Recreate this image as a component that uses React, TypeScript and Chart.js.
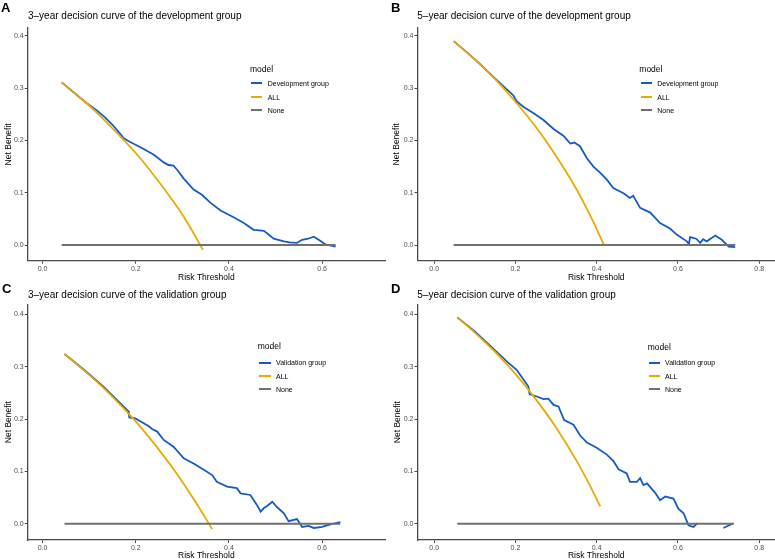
import React, { useEffect, useRef } from "react";
import { Chart, registerables } from "chart.js";

Chart.register(...registerables);

// ---------- data ----------
const xTicksShort = [0, 0.2, 0.4, 0.6];
const xTicksLong = [0, 0.2, 0.4, 0.6, 0.8];
const yTicks = [0, 0.1, 0.2, 0.3, 0.4];

// Panel A: 3-year, development group
const thrA_model = [0.041, 0.06, 0.08, 0.095, 0.117, 0.135, 0.152, 0.167, 0.174, 0.188, 0.21, 0.238, 0.26, 0.27, 0.281, 0.292, 0.303, 0.324, 0.342, 0.36, 0.382, 0.41, 0.432, 0.453, 0.465, 0.475, 0.485, 0.496, 0.518, 0.53, 0.546, 0.557, 0.57, 0.582, 0.596, 0.607, 0.629];
const nbA_model = [0.311, 0.297, 0.282, 0.271, 0.257, 0.243, 0.228, 0.212, 0.204, 0.197, 0.187, 0.173, 0.158, 0.153, 0.152, 0.140, 0.127, 0.106, 0.096, 0.081, 0.066, 0.053, 0.042, 0.029, 0.028, 0.027, 0.020, 0.012, 0.007, 0.005, 0.004, 0.010, 0.012, 0.016, 0.008, 0.001, -0.003];
const thrA_all = [0.041, 0.08, 0.12, 0.16, 0.2, 0.24, 0.28, 0.31, 0.344];
const nbA_all = [0.311, 0.282, 0.25, 0.214, 0.176, 0.132, 0.084, 0.044, -0.009];
const thrA_none = [0.041, 0.629];
const nbA_none = [0, 0];

// Panel B: 5-year, development group
const thrB_model = [0.048, 0.08, 0.11, 0.14, 0.17, 0.187, 0.195, 0.203, 0.22, 0.245, 0.269, 0.294, 0.318, 0.335, 0.345, 0.359, 0.376, 0.392, 0.409, 0.425, 0.441, 0.466, 0.482, 0.49, 0.507, 0.532, 0.556, 0.575, 0.581, 0.597, 0.622, 0.627, 0.63, 0.645, 0.655, 0.662, 0.671, 0.692, 0.708, 0.725, 0.741];
const nbB_model = [0.39, 0.369, 0.348, 0.326, 0.304, 0.292, 0.286, 0.275, 0.264, 0.252, 0.239, 0.222, 0.209, 0.194, 0.196, 0.189, 0.166, 0.15, 0.138, 0.125, 0.109, 0.099, 0.09, 0.094, 0.071, 0.062, 0.042, 0.034, 0.031, 0.02, 0.007, 0.002, 0.015, 0.012, 0.004, 0.011, 0.007, 0.018, 0.01, -0.003, -0.004];
const thrB_all = [0.048, 0.1, 0.15, 0.2, 0.25, 0.3, 0.35, 0.39, 0.418];
const nbB_all = [0.39, 0.355, 0.317, 0.274, 0.226, 0.17, 0.107, 0.047, 0.0];
const thrB_none = [0.048, 0.741];
const nbB_none = [0, 0];

// Panel C: 3-year, validation group
const thrC_model = [0.047, 0.09, 0.13, 0.16, 0.185, 0.186, 0.199, 0.217, 0.228, 0.235, 0.246, 0.26, 0.281, 0.303, 0.324, 0.346, 0.364, 0.374, 0.396, 0.417, 0.425, 0.446, 0.46, 0.468, 0.475, 0.482, 0.493, 0.503, 0.518, 0.528, 0.546, 0.55, 0.557, 0.571, 0.582, 0.6, 0.618, 0.639];
const nbC_model = [0.324, 0.293, 0.262, 0.236, 0.214, 0.203, 0.201, 0.192, 0.186, 0.181, 0.176, 0.16, 0.147, 0.125, 0.115, 0.103, 0.093, 0.08, 0.071, 0.068, 0.058, 0.055, 0.036, 0.023, 0.03, 0.034, 0.042, 0.032, 0.02, 0.005, 0.009, 0.004, -0.006, -0.004, -0.008, -0.006, -0.001, 0.003];
const thrC_all = [0.047, 0.09, 0.13, 0.17, 0.21, 0.25, 0.29, 0.33, 0.364];
const nbC_all = [0.324, 0.292, 0.26, 0.224, 0.185, 0.141, 0.093, 0.039, -0.01];
const thrC_none = [0.047, 0.639];
const nbC_none = [0, 0];

// Panel D: 5-year, validation group (gap between 0.648 and 0.712)
const thrD_model = [0.057, 0.1, 0.15, 0.18, 0.203, 0.212, 0.232, 0.235, 0.253, 0.269, 0.281, 0.294, 0.306, 0.32, 0.343, 0.359, 0.376, 0.4, 0.425, 0.441, 0.454, 0.474, 0.482, 0.499, 0.507, 0.515, 0.524, 0.544, 0.556, 0.569, 0.589, 0.601, 0.614, 0.626, 0.638, 0.648, 0.68, 0.712, 0.737];
const nbD_model = [0.394, 0.367, 0.331, 0.309, 0.294, 0.284, 0.262, 0.247, 0.243, 0.238, 0.239, 0.227, 0.224, 0.198, 0.189, 0.169, 0.155, 0.145, 0.132, 0.12, 0.104, 0.096, 0.08, 0.08, 0.087, 0.074, 0.077, 0.059, 0.045, 0.052, 0.048, 0.029, 0.02, -0.003, -0.006, 0.001, null, -0.008, 0.001];
const thrD_all = [0.057, 0.1, 0.15, 0.2, 0.25, 0.3, 0.35, 0.38, 0.409];
const nbD_all = [0.394, 0.365, 0.328, 0.286, 0.238, 0.184, 0.121, 0.078, 0.033];
const thrD_none = [0.057, 0.737];
const nbD_none = [0, 0];

// ---------- styles ----------
const FONT = '"Liberation Sans", Arial, Helvetica, sans-serif';
const BLUE = "#145CC3";
const ORANGE = "#EAAA00";
const GREY = "#707070";
const AXIS = "#4a4a4a";
const LINE_W = 1.8;

type PanelSpec = {
  letter: string;
  title: string;
  modelName: string;
  model: [number[], (number | null)[]];
  all: [number[], number[]];
  none: [number[], number[]];
  xTicks: number[];
  xMin: number; xMax: number; yMin: number; yMax: number;
  left: number; top: number; w: number; h: number;
  padTop: number; padRight: number; yAxisW: number; xAxisH: number;
  xTitlePad: number; yTitlePad: number;
  letterPos: [number, number];
  titlePos: [number, number];
  legendPos: { titleX: number; titleY: number; swX: number; swW: number; textX: number; rows: number[] };
};

const panels: PanelSpec[] = [
  {
    letter: "A", title: "3\u2013year decision curve of the development group", modelName: "Development group",
    model: [thrA_model, nbA_model], all: [thrA_all, nbA_all], none: [thrA_none, nbA_none], xTicks: xTicksShort,
    xMin: -0.032, xMax: 0.735, yMin: -0.03, yMax: 0.415,
    left: 0, top: 0, w: 387, h: 285, padTop: 28, padRight: 2, yAxisW: 27.7, xAxisH: 24.3, xTitlePad: 3.2, yTitlePad: 4.05,
    letterPos: [1, 8], titlePos: [28, 15.5],
    legendPos: { titleX: 250, titleY: 69, swX: 250.7, swW: 11.5, textX: 267.7, rows: [83.3, 97, 110.3] },
  },
  {
    letter: "B", title: "5\u2013year decision curve of the development group", modelName: "Development group",
    model: [thrB_model, nbB_model], all: [thrB_all, nbB_all], none: [thrB_none, nbB_none], xTicks: xTicksLong,
    xMin: -0.041, xMax: 0.839, yMin: -0.03, yMax: 0.415,
    left: 387, top: 0, w: 388, h: 285, padTop: 28, padRight: 0, yAxisW: 30.5, xAxisH: 24.3, xTitlePad: 3.2, yTitlePad: 5.45,
    letterPos: [391, 7.5], titlePos: [417.3, 15.5],
    legendPos: { titleX: 639.3, titleY: 69, swX: 640.7, swW: 11, textX: 657.3, rows: [83.3, 97, 110.3] },
  },
  {
    letter: "C", title: "3\u2013year decision curve of the validation group", modelName: "Validation group",
    model: [thrC_model, nbC_model], all: [thrC_all, nbC_all], none: [thrC_none, nbC_none], xTicks: xTicksShort,
    xMin: -0.032, xMax: 0.735, yMin: -0.031, yMax: 0.419,
    left: 0, top: 279, w: 387, h: 280, padTop: 25.3, padRight: 2, yAxisW: 27.7, xAxisH: 19, xTitlePad: -1.2, yTitlePad: 4.05,
    letterPos: [2, 289], titlePos: [28, 295],
    legendPos: { titleX: 257.7, titleY: 346.7, swX: 259.3, swW: 11.4, textX: 276, rows: [362.7, 376.3, 389.3] },
  },
  {
    letter: "D", title: "5\u2013year decision curve of the validation group", modelName: "Validation group",
    model: [thrD_model, nbD_model], all: [thrD_all, nbD_all], none: [thrD_none, nbD_none], xTicks: xTicksLong,
    xMin: -0.041, xMax: 0.839, yMin: -0.031, yMax: 0.419,
    left: 387, top: 279, w: 388, h: 280, padTop: 25.3, padRight: 0, yAxisW: 30.5, xAxisH: 19, xTitlePad: -1.2, yTitlePad: 6.45,
    letterPos: [391, 289], titlePos: [417.3, 294.5],
    legendPos: { titleX: 647.7, titleY: 347, swX: 649.3, swW: 10.5, textX: 665, rows: [362.7, 376, 389] },
  },
];

function toPoints(xs: number[], ys: (number | null)[]) {
  return xs.map((x, i) => ({ x, y: ys[i] }));
}

function Panel({ spec }: { spec: PanelSpec }) {
  const ref = useRef<HTMLCanvasElement>(null);
  useEffect(() => {
    if (!ref.current) return;
    const axisCommon = {
      grid: { drawOnChartArea: false, drawTicks: true, tickLength: 3, tickColor: AXIS, tickWidth: 1 },
      border: { display: true, color: AXIS, width: 1.3 },
    };
    const chart = new Chart(ref.current, {
      type: "line",
      data: {
        datasets: [
          {
            label: spec.modelName, data: toPoints(spec.model[0], spec.model[1]) as any,
            borderColor: BLUE, borderWidth: LINE_W, pointRadius: 0, tension: 0, spanGaps: false, order: 2,
          },
          {
            label: "ALL", data: toPoints(spec.all[0], spec.all[1]) as any,
            borderColor: ORANGE, borderWidth: LINE_W, pointRadius: 0, cubicInterpolationMode: "monotone", order: 1,
          },
          {
            label: "None", data: toPoints(spec.none[0], spec.none[1]) as any,
            borderColor: GREY, borderWidth: LINE_W, pointRadius: 0, tension: 0, order: 0,
          },
        ],
      },
      options: {
        responsive: false,
        animation: false,
        devicePixelRatio: 1,
        layout: { padding: { top: spec.padTop, right: spec.padRight, bottom: 0, left: 0 } },
        plugins: { legend: { display: false }, title: { display: false }, tooltip: { enabled: false } },
        scales: {
          x: {
            type: "linear", min: spec.xMin, max: spec.xMax,
            afterBuildTicks: (s: any) => { s.ticks = spec.xTicks.map((v) => ({ value: v })); },
            afterFit: (s: any) => { s.height = spec.xAxisH; },
            ...axisCommon,
            ticks: {
              padding: 1, color: "#4D4D4D", autoSkip: false, maxRotation: 0,
              font: { size: 7, family: FONT },
              callback: (v: any) => Number(v).toFixed(1),
            },
            title: {
              display: true, text: "Risk Threshold", color: "#000",
              font: { size: 8.5, family: FONT, lineHeight: 1 },
              padding: { top: 0, bottom: spec.xTitlePad },
            },
          },
          y: {
            type: "linear", min: spec.yMin, max: spec.yMax,
            afterBuildTicks: (s: any) => { s.ticks = yTicks.map((v) => ({ value: v })); },
            afterFit: (s: any) => { s.width = spec.yAxisW; },
            ...axisCommon,
            ticks: {
              padding: 1, color: "#4D4D4D", autoSkip: false,
              font: { size: 7, family: FONT },
              callback: (v: any) => Number(v).toFixed(1),
            },
            title: {
              display: true, text: "Net Benefit", color: "#000",
              font: { size: 8.5, family: FONT, lineHeight: 1 },
              padding: { top: spec.yTitlePad, bottom: 0 },
            },
          },
        },
      } as any,
    });
    return () => chart.destroy();
  }, [spec]);

  return (
    <canvas
      ref={ref}
      width={spec.w}
      height={spec.h}
      style={{ position: "absolute", left: spec.left, top: spec.top, width: spec.w, height: spec.h, display: "block" }}
    />
  );
}

function Overlay({ spec }: { spec: PanelSpec }) {
  const lg = spec.legendPos;
  const entries: [string, string][] = [
    [spec.modelName, BLUE],
    ["ALL", ORANGE],
    ["None", GREY],
  ];
  return (
    <>
      <div style={{ position: "absolute", left: spec.letterPos[0], top: spec.letterPos[1] - 8, height: 16, lineHeight: "16px", fontFamily: FONT, fontWeight: "bold", fontSize: 13, color: "#000", whiteSpace: "nowrap" }}>
        {spec.letter}
      </div>
      <div style={{ position: "absolute", left: spec.titlePos[0], top: spec.titlePos[1] - 6, height: 12, lineHeight: "12px", fontFamily: FONT, fontSize: 10, color: "#000", whiteSpace: "nowrap" }}>
        {spec.title}
      </div>
      <div style={{ position: "absolute", left: lg.titleX, top: lg.titleY - 5.5, height: 11, lineHeight: "11px", fontFamily: FONT, fontSize: 8.5, color: "#000", whiteSpace: "nowrap" }}>
        model
      </div>
      {entries.map(([name, color], i) => (
        <React.Fragment key={name}>
          <div style={{ position: "absolute", left: lg.swX, top: lg.rows[i] - 0.9, width: lg.swW, height: 1.8, background: color }} />
          <div style={{ position: "absolute", left: lg.textX, top: lg.rows[i] - 4.5, height: 9, lineHeight: "9px", fontFamily: FONT, fontSize: 7, color: "#000", whiteSpace: "nowrap" }}>
            {name}
          </div>
        </React.Fragment>
      ))}
    </>
  );
}

export default function App() {
  return (
    <div style={{ position: "absolute", left: 0, top: 0, width: 775, height: 559, overflow: "hidden", background: "#fff" }}>
      {panels.map((p) => (
        <Panel key={p.letter} spec={p} />
      ))}
      {panels.map((p) => (
        <Overlay key={"o" + p.letter} spec={p} />
      ))}
    </div>
  );
}
